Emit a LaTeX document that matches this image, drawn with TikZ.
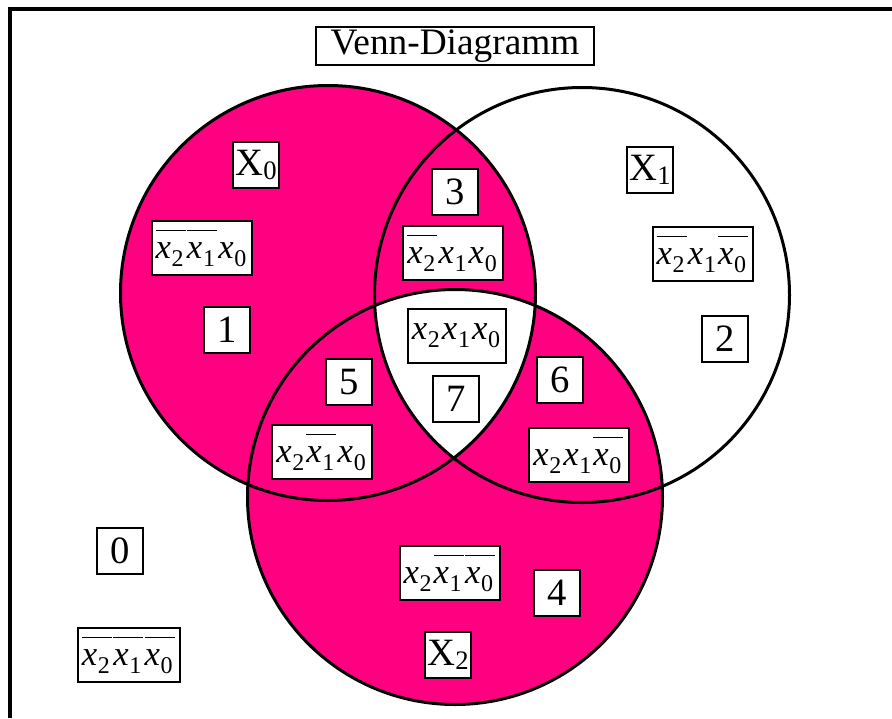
\documentclass[tikz,border=0pt]{standalone}
\usepackage{fontspec}
\setmainfont{Liberation Serif}
\usetikzlibrary{positioning}
\definecolor{VennPink}{RGB}{255,0,128}

% term letters: x with a lowered index, and the negated form
\newcommand{\xv}[1]{\textit{x}\kern0.5pt\raisebox{-6pt}{\fontsize{18}{18}\selectfont #1}\kern1.5pt}
\newcommand{\nv}[1]{$\overline{\hbox{\rule{0pt}{20pt}\xv{#1}}}$\kern1pt}
\newcommand{\setlbl}[1]{X\raisebox{-3pt}{\fontsize{20}{20}\selectfont #1}}

\begin{document}
\begin{tikzpicture}[x=0.75pt, y=0.75pt, every node/.style={align=center}]
  \tikzset{
    numbox/.style={draw, fill=white, line width=1.4pt, font=\fontsize{29}{30}\selectfont,
      minimum width=34.5pt, minimum height=35pt, inner sep=0pt},
    termbox/.style={draw, fill=white, line width=1.4pt, font=\fontsize{26}{28}\selectfont,
      minimum height=41pt, inner xsep=3pt, inner ysep=0pt},
    titlebox/.style={draw, fill=white, line width=1.4pt, font=\fontsize{28}{30}\selectfont,
      minimum width=209pt, minimum height=29pt, inner sep=0pt},
    ring/.style={line width=2.25pt},
    frame/.style={line width=3pt}
  }
  \useasboundingbox (0,-718) rectangle (892,0);
  \draw[frame] (892,-9) -- (10,-9) -- (10,-718);

  \coordinate (cx0) at (328,-293);
  \coordinate (cx1) at (582,-295);
  \coordinate (cx2) at (455,-497);

  % shading
  \fill[VennPink] (cx0) circle[radius=207.5];
  \fill[VennPink] (cx2) circle[radius=207.5];
  \begin{scope}
    \clip (cx0) circle[radius=207.5];
    \clip (cx1) circle[radius=207.5];
    \fill[white] (cx2) circle[radius=207.5];
  \end{scope}
  \draw[ring] (cx0) circle[radius=207.5];
  \draw[ring] (cx1) circle[radius=207.5];
  \draw[ring] (cx2) circle[radius=207.5];

  \node[titlebox] (title) at (455,-46) {Venn-Diagramm};

  \node[numbox] (setx0) at (256,-165) {\setlbl{0}};
  \node[numbox] (setx1) at (650,-170) {\setlbl{1}};
  \node[numbox] (setx2) at (448,-655) {\setlbl{2}};

  \node[numbox] (n0) at (120,-551) {0};
  \node[numbox] (n1) at (227,-330) {1};
  \node[numbox] (n2) at (725,-339) {2};
  \node[numbox] (n3) at (455,-192) {3};
  \node[numbox] (n4) at (557,-593) {4};
  \node[numbox] (n5) at (349,-382) {5};
  \node[numbox] (n6) at (560,-380) {6};
  \node[numbox] (n7) at (456,-399) {7};

  \node[termbox] (t0) at (129,-655) {\nv{2}\nv{1}\nv{0}};
  \node[termbox] (t1) at (202,-248) {\nv{2}\nv{1}\xv{0}};
  \node[termbox] (t2) at (703,-254) {\nv{2}\xv{1}\nv{0}};
  \node[termbox] (t3) at (453,-253) {\nv{2}\xv{1}\xv{0}};
  \node[termbox] (t4) at (450,-573) {\xv{2}\nv{1}\nv{0}};
  \node[termbox] (t5) at (322,-452) {\xv{2}\nv{1}\xv{0}};
  \node[termbox] (t6) at (579,-455) {\xv{2}\xv{1}\nv{0}};
  \node[termbox] (t7) at (457,-336) {\xv{2}\xv{1}\xv{0}};
\end{tikzpicture}
\end{document}
